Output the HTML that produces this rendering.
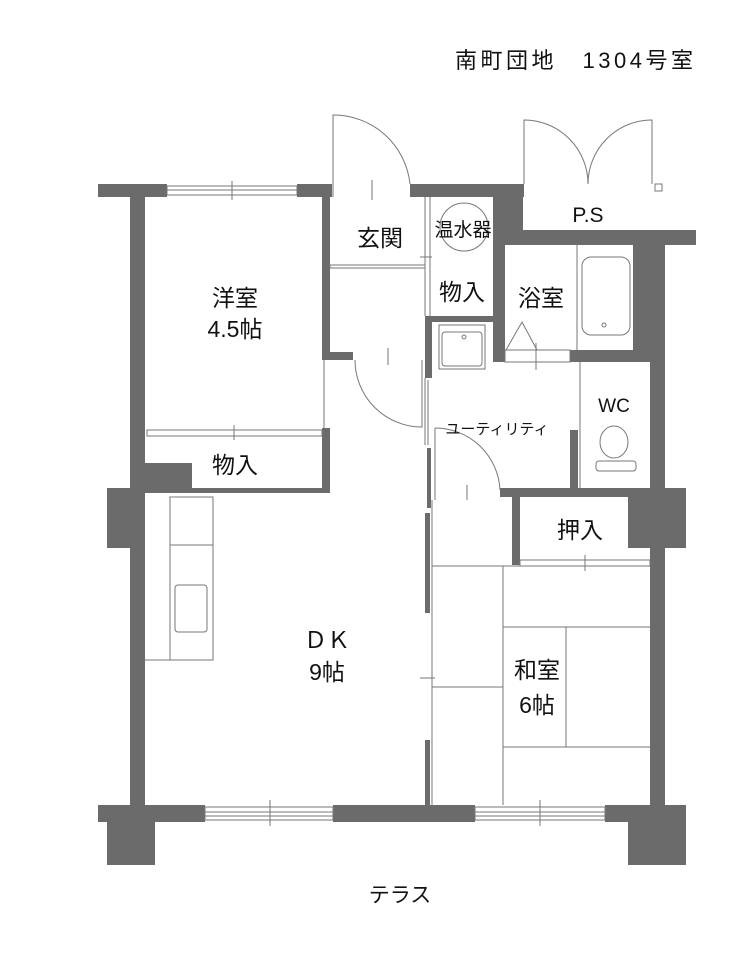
<!DOCTYPE html>
<html><head><meta charset="utf-8"><style>
html,body{margin:0;padding:0;background:#fff;}
svg{display:block;}
text{font-family:"Liberation Sans","Noto Sans CJK JP",sans-serif;fill:#111;}
</style></head><body>
<svg width="752" height="962" viewBox="0 0 752 962" xmlns="http://www.w3.org/2000/svg">
<rect width="752" height="962" fill="#fff"/>
<text x="455" y="68" font-size="22" textLength="238" lengthAdjust="spacing">南町団地　1304号室</text>
<g fill="#6b6b6b">
<rect x="98" y="184" width="69" height="13"/>
<rect x="297" y="184" width="35" height="13"/>
<rect x="410" y="184" width="114" height="13"/>
<rect x="493" y="184" width="30" height="61"/>
<rect x="523" y="230" width="173" height="15"/>
<rect x="493" y="197" width="12" height="165"/>
<rect x="130" y="184" width="15" height="630"/>
<rect x="107" y="488" width="23" height="60"/>
<rect x="322" y="197" width="8" height="163"/>
<rect x="322" y="352" width="31" height="8"/>
<rect x="322" y="428" width="8" height="65"/>
<rect x="145" y="463" width="47" height="30"/>
<rect x="145" y="488" width="185" height="5"/>
<rect x="425" y="316" width="68" height="6"/>
<rect x="425" y="316" width="7" height="62"/>
<rect x="570" y="350" width="80" height="12"/>
<rect x="570" y="430" width="8" height="58"/>
<rect x="500" y="488" width="150" height="9"/>
<rect x="512" y="488" width="8" height="77"/>
<rect x="650" y="245" width="15" height="570"/>
<rect x="633" y="245" width="32" height="105"/>
<rect x="628" y="488" width="58" height="60"/>
<rect x="425" y="513" width="5" height="100"/>
<rect x="425" y="740" width="5" height="65"/>
<rect x="427" y="448" width="4" height="60"/>
<rect x="98" y="805" width="107" height="17"/>
<rect x="333" y="805" width="142" height="17"/>
<rect x="605" y="805" width="81" height="17"/>
<rect x="107" y="822" width="48" height="43"/>
<rect x="628" y="822" width="58" height="43"/>
</g>
<g fill="none" stroke="#777" stroke-width="1">
<rect x="167" y="186" width="130" height="9"/><line x1="167" y1="190" x2="297" y2="190"/><line x1="232" y1="181" x2="232" y2="200"/>
<rect x="205" y="807" width="128" height="13"/><line x1="205" y1="812" x2="333" y2="812"/><line x1="205" y1="816" x2="333" y2="816"/><line x1="270" y1="800" x2="270" y2="826"/>
<rect x="475" y="807" width="130" height="13"/><line x1="475" y1="812" x2="605" y2="812"/><line x1="475" y1="816" x2="605" y2="816"/><line x1="540" y1="800" x2="540" y2="826"/>
<rect x="147" y="430" width="175" height="6"/><line x1="234" y1="425" x2="234" y2="440"/>
<rect x="520" y="560" width="130" height="6"/><line x1="585" y1="555" x2="585" y2="571"/>
<path d="M333 197 V115 A77 77 0 0 1 410 184"/>
<line x1="372" y1="180" x2="372" y2="200"/>
<rect x="330" y="265" width="95" height="3"/>
<line x1="425" y1="197" x2="425" y2="316"/><line x1="430" y1="197" x2="430" y2="316"/>
<line x1="420" y1="257" x2="432" y2="257"/>
<path d="M355 360 A67 67 0 0 0 422 427 V360"/>
<line x1="388" y1="348" x2="388" y2="365"/>
<line x1="324" y1="360" x2="324" y2="428"/>
<path d="M524 184 V120 A64 64 0 0 1 588 184"/>
<path d="M652 184 V120 A64 64 0 0 0 588 184"/>
<rect x="655" y="184" width="7" height="7"/>
<circle cx="464" cy="227" r="24"/>
<line x1="577" y1="245" x2="577" y2="350"/>
<rect x="582" y="257" width="48" height="78" rx="9"/>
<circle cx="604" cy="325" r="2"/>
<path d="M506 350 L522 322 L537 350"/>
<rect x="505" y="350" width="65" height="12"/>
<line x1="536" y1="343" x2="536" y2="370"/>
<rect x="439" y="325" width="46" height="44"/>
<rect x="442" y="332" width="40" height="34" rx="3"/>
<circle cx="464" cy="337" r="2"/>
<line x1="425" y1="378" x2="425" y2="445"/><line x1="428" y1="380" x2="428" y2="445"/>
<line x1="580" y1="362" x2="580" y2="488"/>
<ellipse cx="614" cy="442" rx="14" ry="16"/>
<rect x="596" y="461" width="40" height="10" rx="3"/>
<path d="M435 428 A65 65 0 0 1 500 490"/>
<line x1="435" y1="428" x2="435" y2="500"/>
<line x1="467" y1="485" x2="467" y2="500"/>
<line x1="432" y1="566" x2="650" y2="566"/>
<line x1="503" y1="566" x2="503" y2="805"/>
<line x1="503" y1="627" x2="650" y2="627"/>
<line x1="566" y1="627" x2="566" y2="747"/>
<line x1="503" y1="747" x2="650" y2="747"/>
<line x1="432" y1="687" x2="503" y2="687"/>
<line x1="432" y1="500" x2="432" y2="805"/>
<line x1="420" y1="678" x2="435" y2="678"/>
<rect x="170" y="497" width="43" height="163"/>
<line x1="170" y1="545" x2="213" y2="545"/>
<line x1="145" y1="660" x2="170" y2="660"/>
<rect x="175" y="585" width="32" height="47" rx="3"/>
</g>
<g font-size="23" text-anchor="middle">
<text x="235" y="306">洋室</text>
<text x="235" y="337">4.5帖</text>
<text x="235" y="473">物入</text>
<text x="380" y="246">玄関</text>
<text x="463" y="236" font-size="19">温水器</text>
<text x="462" y="300">物入</text>
<text x="541" y="306">浴室</text>
<text x="588" y="222" font-size="21">P.S</text>
<text x="614" y="412" font-size="19">WC</text>
<text x="497" y="434" font-size="15">ユーティリティ</text>
<text x="580" y="538">押入</text>
<text x="327" y="648">ＤＫ</text>
<text x="327" y="680">9帖</text>
<text x="537" y="678">和室</text>
<text x="537" y="713">6帖</text>
<text x="400" y="902" font-size="21">テラス</text>
</g>
</svg>
</body></html>
